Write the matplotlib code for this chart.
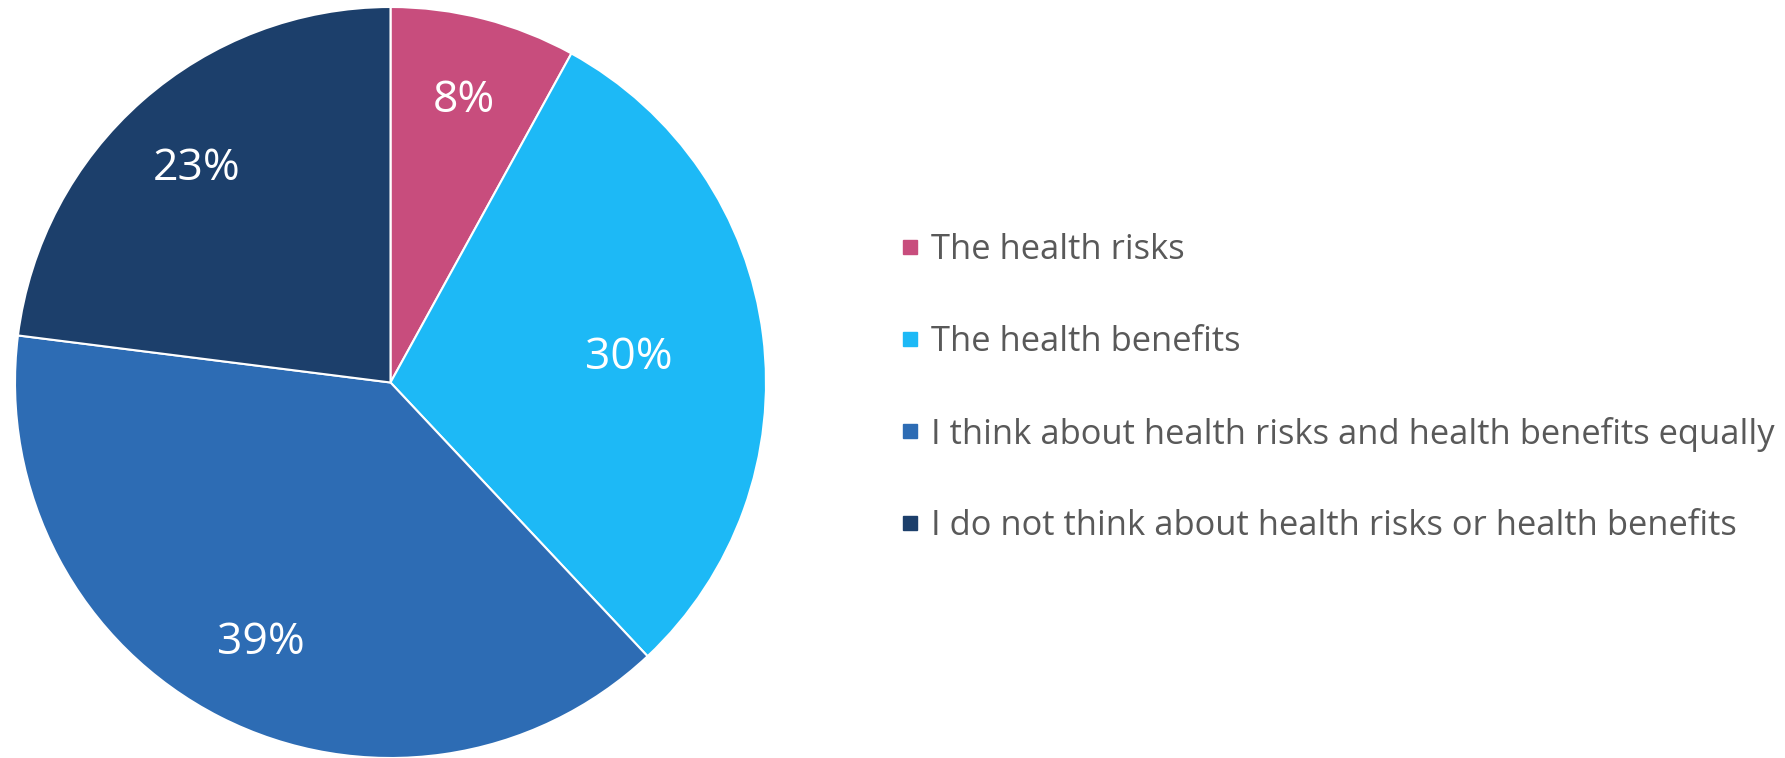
import matplotlib
matplotlib.use('Agg')
import matplotlib.pyplot as plt
from matplotlib.lines import Line2D
import numpy as np

plt.rcParams['font.family'] = ['Open Sans', 'DejaVu Sans']

labels = [
    'The health risks',
    'The health benefits',
    'I think about health risks and health benefits equally',
    'I do not think about health risks or health benefits',
]
shares = [8, 30, 39, 23]
colors = ['#C84D7D', '#1DB9F6', '#2D6CB4', '#1C3F6B']
# how far out each percent label sits, as a fraction of the radius
label_dist = [0.79, 0.64, 0.76, 0.78]

fig = plt.figure(figsize=(17.85, 7.58), dpi=100)
W, H = 1785, 758
cx, cy, r = 390.5, 375.5, 375.5
ax = fig.add_axes([(cx - r) / W, (cy - r) / H, 2 * r / W, 2 * r / H])

wedges, _ = ax.pie(shares, colors=colors, startangle=90, counterclock=False,
                   wedgeprops=dict(edgecolor='white', linewidth=1.5))
ax.set_xlim(-1, 1)
ax.set_ylim(-1, 1)
ax.set_aspect('equal')
ax.axis('off')

for w, v, d in zip(wedges, shares, label_dist):
    mid = np.deg2rad((w.theta1 + w.theta2) / 2)
    ax.text(d * np.cos(mid), d * np.sin(mid), f'{v}%', color='white',
            fontsize=32, ha='center', va='center_baseline')

handles = [Line2D([], [], marker='s', linestyle='none', markersize=10,
                  markerfacecolor=c, markeredgecolor=c) for c in colors]
fig.legend(handles, labels, loc='center left', bbox_to_anchor=(869 / W, 0.488),
           frameon=False, fontsize=24.8, labelcolor='#595959',
           handlelength=0.6, handletextpad=0.3, labelspacing=1.68)

fig.savefig('out.png', dpi=100)
